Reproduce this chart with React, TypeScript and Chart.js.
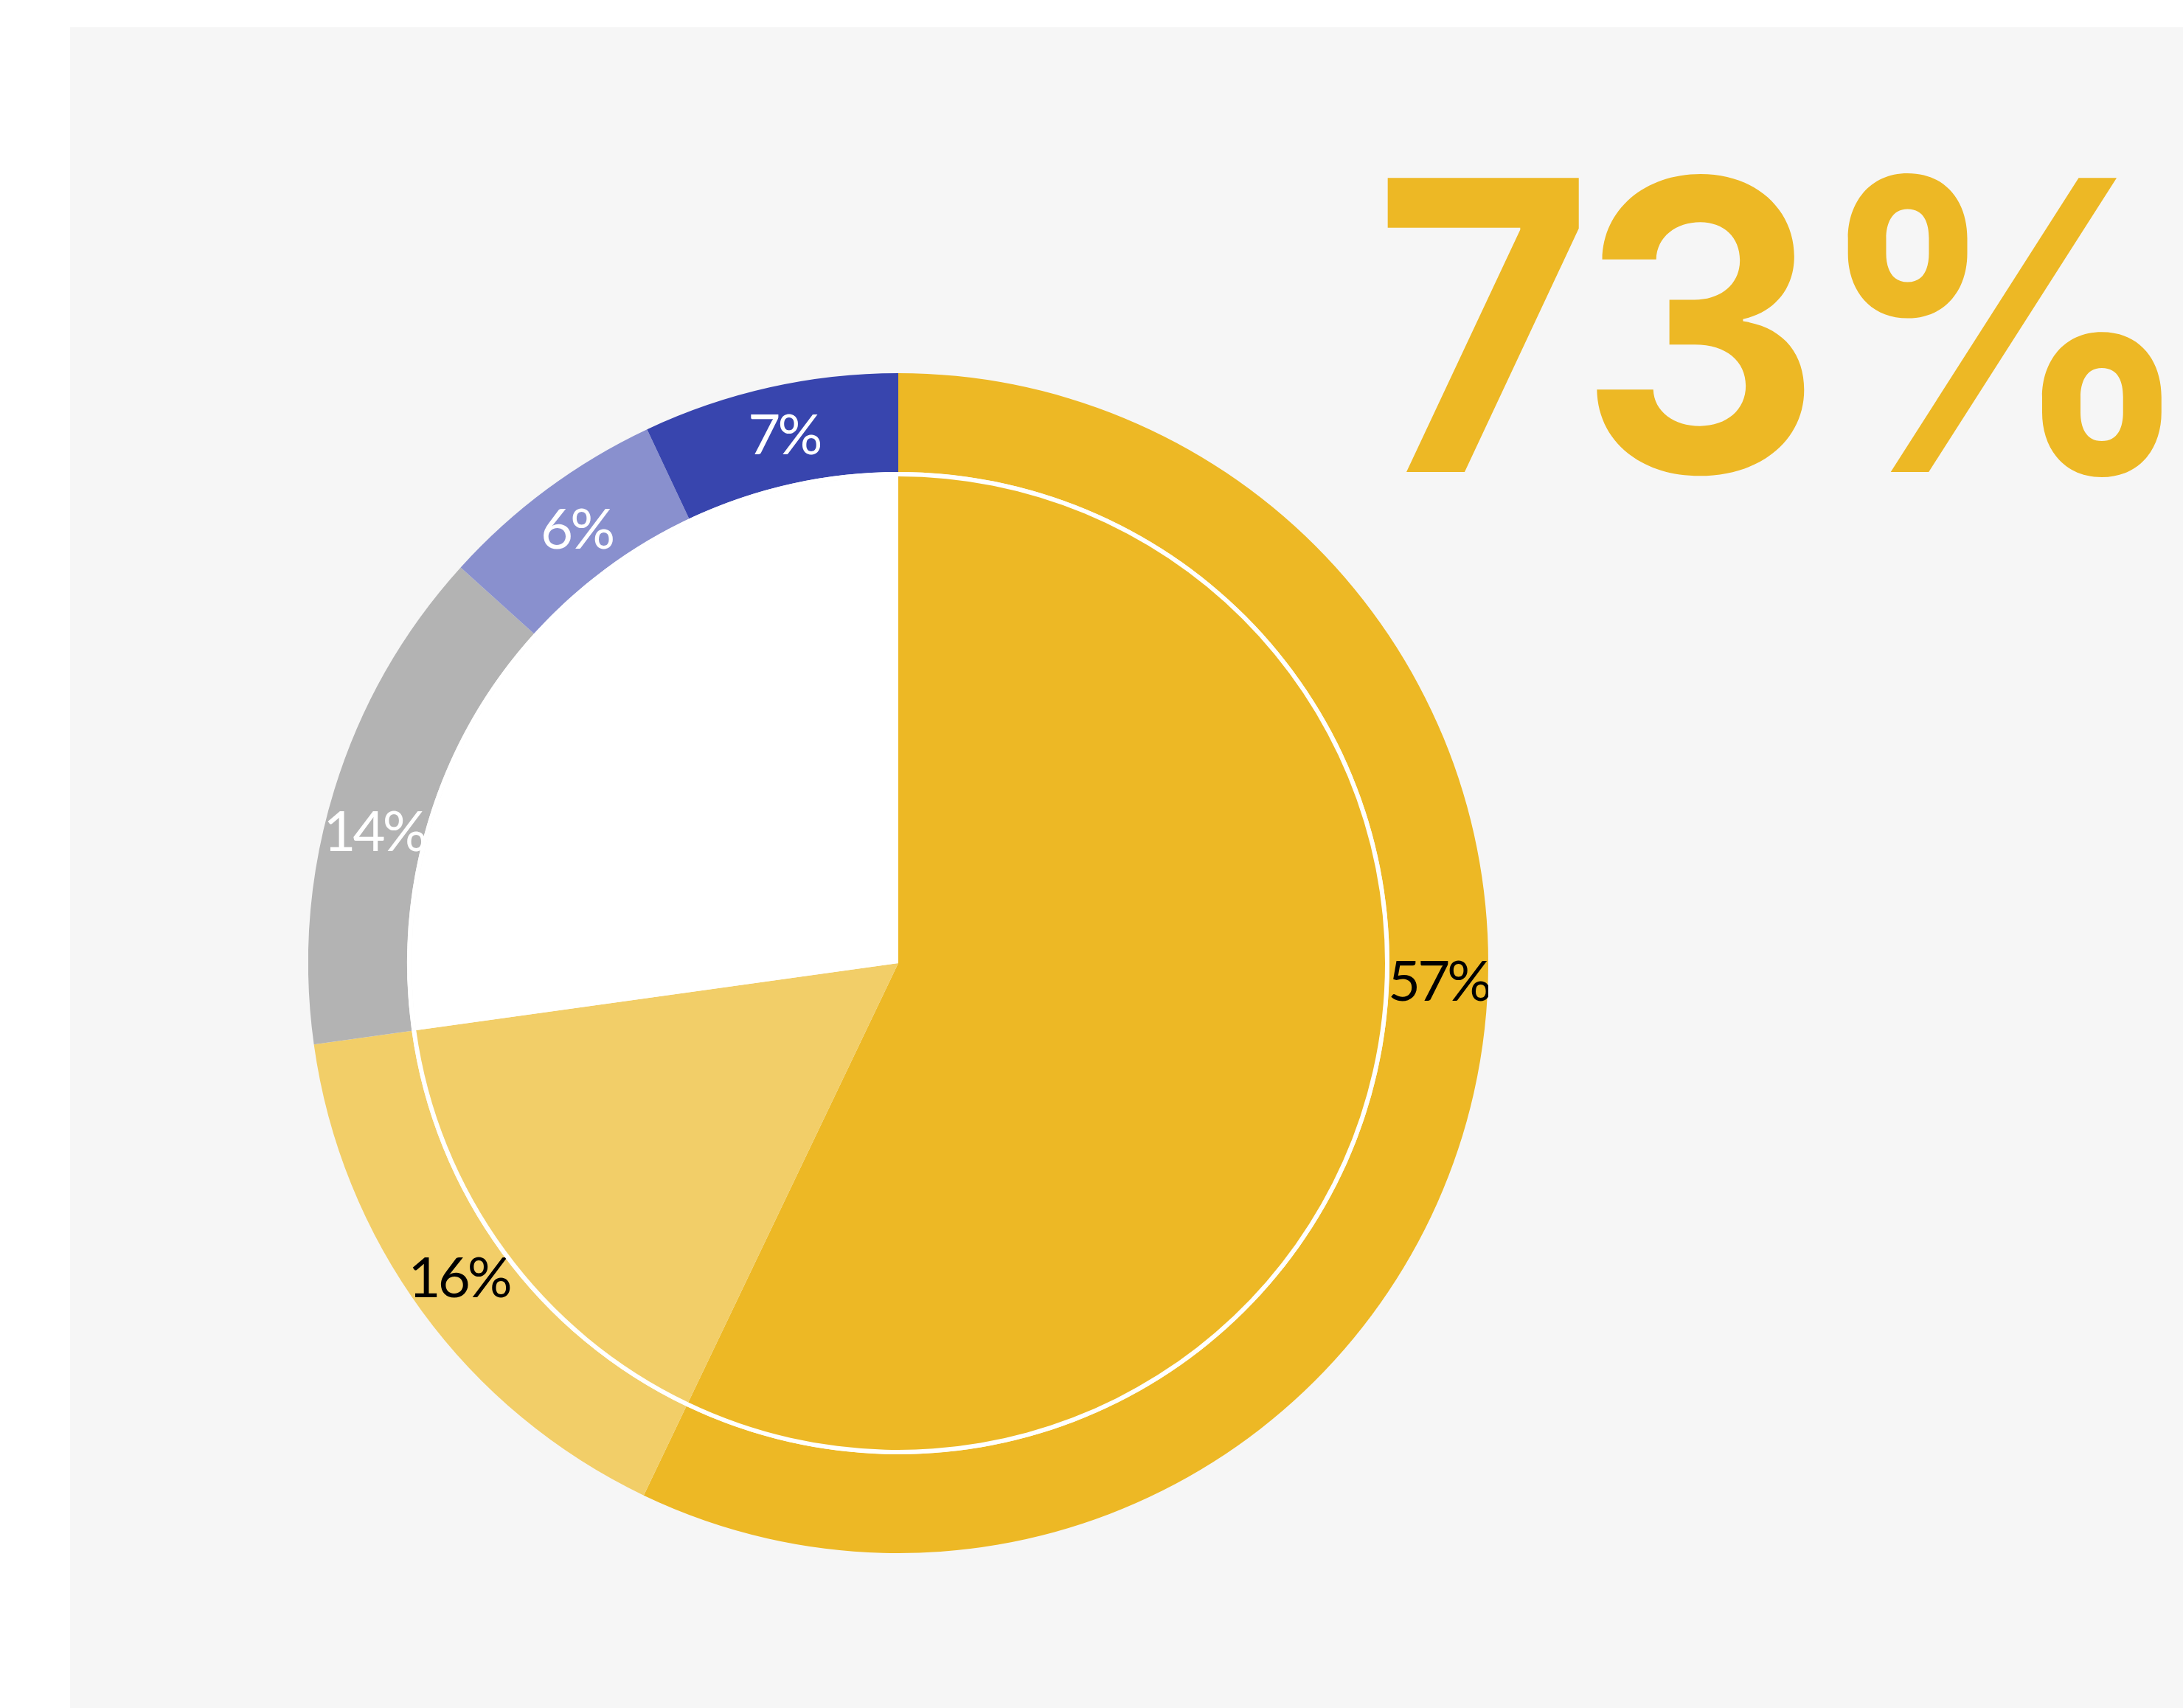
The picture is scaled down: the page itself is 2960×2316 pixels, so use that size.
import React, { useEffect, useRef } from "react";
import { Chart, registerables } from "chart.js";

Chart.register(...registerables);

// ---- data ----
const outerCategories = ["Segment A", "Segment B", "Segment C", "Segment D", "Segment E"];
const outerValues = [57.1, 15.7, 13.9, 6.3, 7.0];
const outerLabels = ["57%", "16%", "14%", "6%", "7%"];
const outerColors = ["#EDB825", "#F2CE68", "#B3B3B3", "#8990CE", "#3845AE"];
const labelColors = ["#000000", "#000000", "#FFFFFF", "#FFFFFF", "#FFFFFF"];
const labelPositions = [0.447, 0.51, 0.44, 0.5, 0.515];
const innerCategories = ["Segment A", "Segment B", "Rest"];
const innerValues = [57.1, 15.7, 27.2];
const innerColors = ["#EDB825", "#F2CE68", "#FFFFFF"];
const separatorColors = ["#FFFFFF", "#FFFFFF", "#FFFFFF"];
const headline = "73%";

const ringLabels = {
  id: "ringLabels",
  afterDatasetDraw(chart: any, args: any) {
    if (args.index !== 0) return;
    const ctx = chart.ctx;
    const meta = chart.getDatasetMeta(0);
    const fontSize = 76;
    meta.data.forEach((arc: any, i: number) => {
      const p = arc.getProps(["x", "y", "startAngle", "endAngle", "innerRadius", "outerRadius"], true);
      const a = p.startAngle + (p.endAngle - p.startAngle) * labelPositions[i];
      const r = (p.innerRadius + p.outerRadius) / 2;
      ctx.save();
      ctx.font = `400 ${fontSize}px Lato, "Noto Sans", sans-serif`;
      try { (ctx as any).letterSpacing = "-4px"; } catch (e) {}
      ctx.fillStyle = labelColors[i];
      ctx.textAlign = "center";
      ctx.textBaseline = "alphabetic";
      ctx.fillText(outerLabels[i], p.x + Math.cos(a) * r, p.y + Math.sin(a) * r + fontSize * 0.35);
      ctx.restore();
    });
  },
};

function DonutChart() {
  const ref = useRef<HTMLCanvasElement | null>(null);
  useEffect(() => {
    if (!ref.current) return;
    const chart = new Chart(ref.current, {
      type: "doughnut",
      data: {
        labels: outerCategories,
        datasets: [
          {
            label: "outer",
            data: outerValues,
            backgroundColor: outerColors,
            borderWidth: 0,
            weight: 134,
            order: 2,
          } as any,
          {
            label: "separator",
            data: innerValues,
            backgroundColor: separatorColors,
            borderWidth: 0,
            weight: 6,
            order: 1,
          } as any,
          {
            label: "inner",
            data: innerValues,
            backgroundColor: innerColors,
            borderWidth: 0,
            weight: 660,
            order: 0,
          } as any,
        ],
      },
      options: {
        responsive: false,
        animation: false,
        cutout: 0,
        layout: { padding: 0 },
        plugins: {
          legend: { display: false },
          tooltip: { enabled: false },
        },
        events: [],
      } as any,
      plugins: [ringLabels],
    });
    return () => chart.destroy();
  }, []);
  return (
    <canvas
      ref={ref}
      width={1600}
      height={1600}
      style={{ position: "absolute", left: 418, top: 506, width: 1600, height: 1600 }}
    />
  );
}

export default function App() {
  return (
    <div style={{ position: "absolute", left: 0, top: 0, width: 2960, height: 2316, overflow: "hidden", background: "#FFFFFF" }}>
      <div style={{ position: "absolute", left: 95, top: 37, width: 2865, height: 2279, background: "#F6F6F6" }} />
      <DonutChart />
      <div
        style={{
          position: "absolute",
          left: 1863,
          top: 167,
          fontFamily: "Inter, sans-serif",
          fontWeight: 700,
          fontSize: 548,
          lineHeight: 1,
          letterSpacing: -11,
          color: "#EDB825",
          whiteSpace: "nowrap",
          transform: "scaleX(0.93)",
          transformOrigin: "0 0",
        }}
      >
        {headline}
      </div>
    </div>
  );
}
